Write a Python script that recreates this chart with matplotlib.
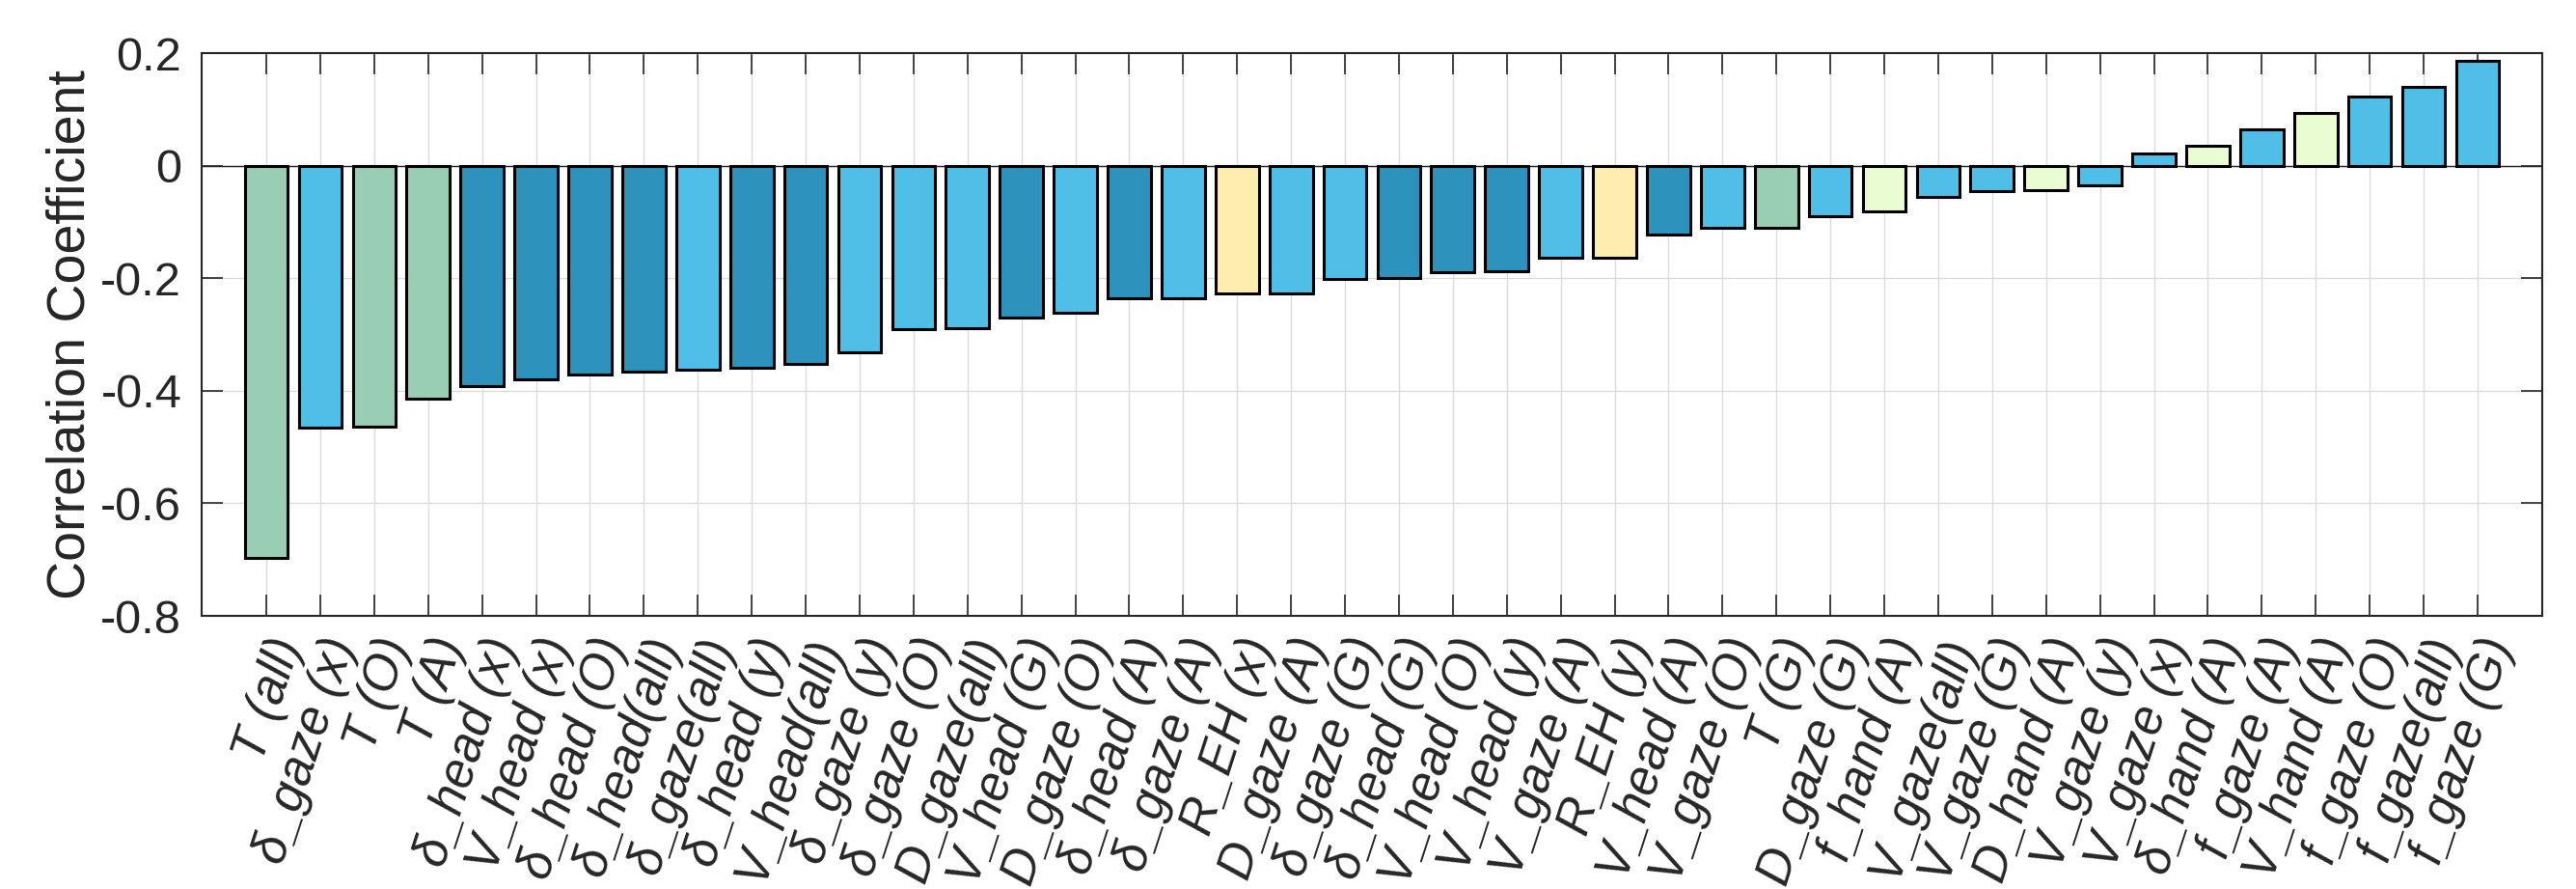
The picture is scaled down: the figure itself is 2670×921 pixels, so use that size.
import numpy as np
import matplotlib.pyplot as plt
import matplotlib.transforms as mtransforms

plt.rcParams['font.family'] = ['Liberation Sans', 'DejaVu Sans']

# features, sorted by correlation
labels = ["T (all)", "δ_gaze (x)", "T (O)", "T (A)", "δ_head (x)", "V_head (x)",
          "δ_head (O)", "δ_head(all)", "δ_gaze(all)", "δ_head (y)", "V_head(all)",
          "δ_gaze (y)", "δ_gaze (O)", "D_gaze(all)", "V_head (G)", "D_gaze (O)",
          "δ_head (A)", "δ_gaze (A)", "R_EH (x)", "D_gaze (A)", "δ_gaze (G)",
          "δ_head (G)", "V_head (O)", "V_head (y)", "V_gaze (A)", "R_EH (y)",
          "V_head (A)", "V_gaze (O)", "T (G)", "D_gaze (G)", "f_hand (A)",
          "V_gaze(all)", "V_gaze (G)", "D_hand (A)", "V_gaze (y)", "V_gaze (x)",
          "δ_hand (A)", "f_gaze (A)", "V_hand (A)", "f_gaze (O)", "f_gaze(all)",
          "f_gaze (G)"]
corr = [-0.697, -0.466, -0.464, -0.414, -0.391, -0.379, -0.371, -0.366, -0.362,
        -0.359, -0.353, -0.332, -0.291, -0.289, -0.270, -0.261, -0.235, -0.235,
        -0.227, -0.227, -0.202, -0.200, -0.190, -0.188, -0.164, -0.164, -0.122,
        -0.111, -0.110, -0.090, -0.082, -0.055, -0.045, -0.043, -0.035, 0.021,
        0.036, 0.065, 0.093, 0.123, 0.140, 0.187]

colors = {"T": "#99cdb4", "gaze": "#4fbfe7", "head": "#2e93bc",
          "EH": "#ffedb0", "hand": "#eafcd2"}

def group(lab):
    for k in ["gaze", "head", "hand", "EH"]:
        if k in lab:
            return k
    return "T"

bar_cols = [colors[group(l)] for l in labels]
x = np.arange(1, len(labels) + 1)

fig = plt.figure(figsize=(26.7, 9.21), dpi=100)
ax = fig.add_axes([209/2670, 1 - 638/921, (2635-209)/2670, (638-55)/921])

ax.bar(x, corr, width=0.8, color=bar_cols, edgecolor='black', linewidth=2.2, zorder=3)
ax.axhline(0, color='#262626', linewidth=1.0, zorder=2)

ax.set_xlim(-0.2, len(labels) + 1.2)
ax.set_ylim(-0.8, 0.2)
yt = np.arange(-0.8, 0.21, 0.2)
ax.set_yticks(yt)
ax.set_yticklabels(["0" if abs(v) < 1e-9 else "%g" % round(v, 1) for v in yt])
ax.set_xticks(x)
ax.set_xticklabels(labels, rotation=72, ha='right', va='top', rotation_mode='anchor',
                   fontstyle='italic', fontsize=37)
shift = mtransforms.ScaledTranslation(8/72, 0, fig.dpi_scale_trans)
for t in ax.get_xticklabels():
    t.set_transform(t.get_transform() + shift)

ax.grid(True, color='#dcdcdc', linewidth=1.0, zorder=0)
ax.tick_params(axis='both', direction='in', length=16, width=1.2, colors='#262626',
               top=True, right=True)
ax.tick_params(axis='y', labelsize=35, pad=15)
ax.tick_params(axis='x', pad=12)
for s in ax.spines.values():
    s.set_color('#262626')
    s.set_linewidth(1.5)

ax.set_ylabel("Correlation Coefficient", fontsize=40, color='#262626')
ax.yaxis.set_label_coords((100 - 209) / 2426, 0.5)

fig.savefig("out.png", dpi=100)
